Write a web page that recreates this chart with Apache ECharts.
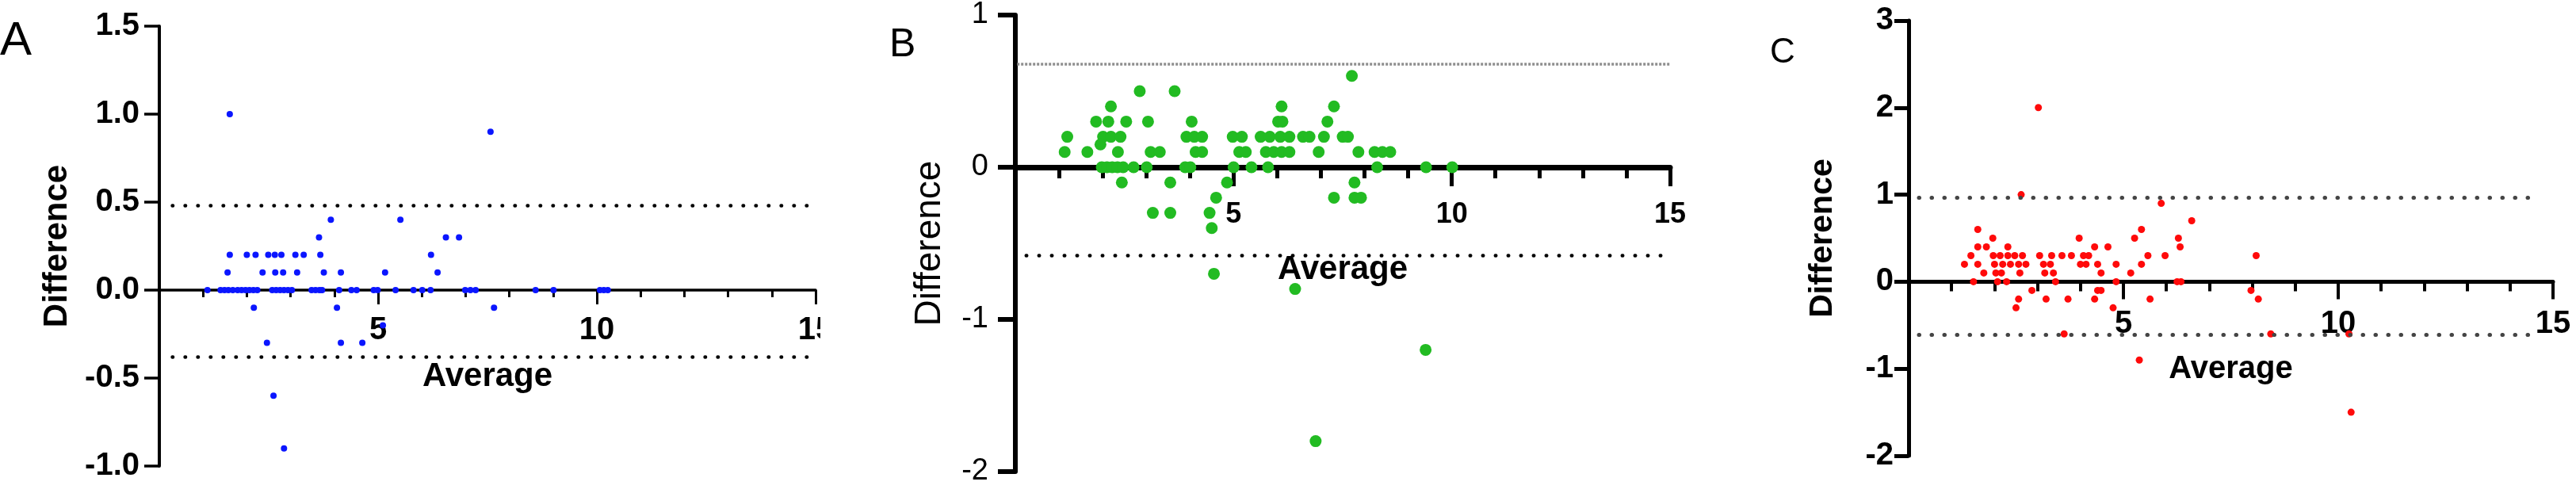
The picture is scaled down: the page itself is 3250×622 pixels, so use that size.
<!DOCTYPE html>
<html><head><meta charset="utf-8">
<script src="https://cdn.jsdelivr.net/npm/echarts@6/dist/echarts.min.js"></script>
<style>
html,body{margin:0;padding:0;background:#fff;width:3250px;height:622px;overflow:hidden}
.p{position:absolute;top:0;height:622px;overflow:hidden}
</style></head><body>
<div id="a" class="p" style="left:0;width:1035px"></div>
<div id="b" class="p" style="left:1035px;width:1165px"></div>
<div id="c" class="p" style="left:2200px;width:1050px"></div>
<script>
// ---------- DATA ----------
// Panel A (blue)
const avgA = [1.61, 7.57, 3.92, 5.51, 3.65, 6.55, 6.85,
  1.61, 2.00, 2.20, 2.49, 2.64, 2.79, 3.11, 3.30, 3.68, 6.21,
  1.56, 2.36, 2.65, 2.83, 3.15, 3.76, 4.15, 5.16, 6.36,
  1.10, 1.40, 1.49, 1.58, 1.68, 1.79, 1.88, 1.97, 2.06, 2.15, 2.24, 2.58, 2.67, 2.76, 2.85, 2.94, 3.03,
  3.48, 3.57, 3.66, 3.72, 4.11, 4.39, 4.51, 4.90, 4.99, 5.40, 5.81, 6.01, 6.20, 6.99, 7.11, 7.23,
  8.60, 9.01, 10.07, 10.16, 10.25,
  2.16, 4.06, 7.65, 5.11, 2.46, 4.15, 4.64, 2.61, 2.85];
const diffA = [1.0, 0.9, 0.4, 0.4, 0.3, 0.3, 0.3,
  0.2, 0.2, 0.2, 0.2, 0.2, 0.2, 0.2, 0.2, 0.2, 0.2,
  0.1, 0.1, 0.1, 0.1, 0.1, 0.1, 0.1, 0.1, 0.1,
  0, 0, 0, 0, 0, 0, 0, 0, 0, 0, 0, 0, 0, 0, 0, 0, 0,
  0, 0, 0, 0, 0, 0, 0, 0, 0, 0, 0, 0, 0, 0, 0, 0,
  0, 0, 0, 0, 0,
  -0.1, -0.1, -0.1, -0.2, -0.3, -0.3, -0.3, -0.6, -0.9];
const limitsA = [0.48, -0.38];

// Panel B (green)
const avgB = [7.71, 2.85, 3.65, 2.19, 6.10, 7.30,
  1.85, 2.13, 2.54, 3.04, 4.04, 6.02, 6.12, 7.15,
  1.19, 2.01, 2.19, 2.41, 3.92, 4.10, 4.28, 4.98, 5.19, 5.62, 5.83, 6.07, 6.28, 6.59, 6.74, 7.07, 7.50, 7.62,
  1.95,
  1.13, 1.65, 2.35, 3.10, 3.31, 4.13, 4.28, 5.13, 5.28, 5.74, 5.92, 6.10, 6.28, 6.95, 7.86, 8.23, 8.41, 8.59,
  1.98, 2.10, 2.22, 2.34, 2.47, 2.71, 3.01, 3.89, 4.01, 5.00, 5.41, 5.79, 8.29, 9.41, 10.01,
  2.44, 3.55, 4.85, 7.77, 4.60, 7.30, 7.77, 7.92, 3.15, 3.55, 4.45, 4.50, 4.55, 6.41, 9.40, 6.88];
const diffB = [0.6, 0.5, 0.5, 0.4, 0.4, 0.4,
  0.3, 0.3, 0.3, 0.3, 0.3, 0.3, 0.3, 0.3,
  0.2, 0.2, 0.2, 0.2, 0.2, 0.2, 0.2, 0.2, 0.2, 0.2, 0.2, 0.2, 0.2, 0.2, 0.2, 0.2, 0.2, 0.2,
  0.15,
  0.1, 0.1, 0.1, 0.1, 0.1, 0.1, 0.1, 0.1, 0.1, 0.1, 0.1, 0.1, 0.1, 0.1, 0.1, 0.1, 0.1, 0.1,
  0, 0, 0, 0, 0, 0, 0, 0, 0, 0, 0, 0, 0, 0, 0,
  -0.1, -0.1, -0.1, -0.1, -0.2, -0.2, -0.2, -0.2, -0.3, -0.3, -0.3, -0.4, -0.7, -0.8, -1.2, -1.8];
const limitsB = [0.68, -0.58];

// Panel C (red)
const avgC = [3.02, 2.62, 5.88, 6.59, 1.61, 5.42,
  1.96, 3.97, 5.26, 6.28,
  1.61, 1.81, 2.31, 4.33, 4.64, 6.32,
  1.45, 1.97, 2.13, 2.31, 2.47, 2.65, 3.05, 3.33, 3.57, 3.79, 4.07, 4.19, 5.57, 5.97, 8.09,
  1.30, 1.61, 2.00, 2.19, 2.37, 2.56, 2.73, 3.14, 3.30, 4.00, 4.13, 4.40, 4.83, 5.42,
  1.75, 2.03, 2.16, 2.59, 3.17, 3.37, 4.48, 5.17,
  1.51, 2.07, 2.28, 3.42, 4.83, 6.25, 6.34,
  2.87, 4.40, 4.48, 7.97,
  2.56, 3.20, 3.71, 4.33, 5.62, 8.14,
  2.50, 4.76, 3.62, 8.43, 10.25, 5.37, 10.30];
const diffC = [2.0, 1.0, 0.9, 0.7, 0.6, 0.6,
  0.5, 0.5, 0.5, 0.5,
  0.4, 0.4, 0.4, 0.4, 0.4, 0.4,
  0.3, 0.3, 0.3, 0.3, 0.3, 0.3, 0.3, 0.3, 0.3, 0.3, 0.3, 0.3, 0.3, 0.3, 0.3,
  0.2, 0.2, 0.2, 0.2, 0.2, 0.2, 0.2, 0.2, 0.2, 0.2, 0.2, 0.2, 0.2, 0.2,
  0.1, 0.1, 0.1, 0.1, 0.1, 0.1, 0.1, 0.1,
  0, 0, 0, 0, 0, 0, 0,
  -0.1, -0.1, -0.1, -0.1,
  -0.2, -0.2, -0.2, -0.2, -0.2, -0.2,
  -0.3, -0.3, -0.6, -0.6, -0.6, -0.9, -1.5];
const limitsC = [0.97, -0.61];

const xTitle = 'Average';
const yTitle = 'Difference';
const panelLetters = ['A', 'B', 'C'];

// ---------- RENDER ----------
const FONT = "'Liberation Sans', Arial, sans-serif";

function zip(xs, ys) { return xs.map((x, i) => [x, ys[i]]); }

function build(cfg) {
  const lim = cfg.limits.map((y, i) => [
    { coord: [cfg.limSpan[i][0], y], lineStyle: cfg.limStyle[i] },
    { coord: [cfg.limSpan[i][1], y] }
  ]);
  // move the x axis up to the y = 0 level of the grid
  const zeroOffset = -((0 - cfg.yMin) / (cfg.yMax - cfg.yMin)) * cfg.grid.height;
  return {
    animation: false,
    backgroundColor: '#fff',
    grid: Object.assign({ outerBoundsMode: 'none', containLabel: false }, cfg.grid),
    xAxis: {
      type: 'value', min: 0, max: 15, interval: 5, position: 'bottom', offset: zeroOffset,
      axisLine: { show: true, onZero: false, lineStyle: { color: '#000', width: cfg.xLineW } },
      axisTick: { show: true, length: cfg.xMajor, lineStyle: { color: '#000', width: cfg.xTickW } },
      minorTick: { show: true, splitNumber: 5, length: cfg.xMinor, lineStyle: { color: '#000', width: cfg.xTickW } },
      splitLine: { show: false }, minorSplitLine: { show: false },
      axisLabel: { showMinLabel: false, margin: cfg.xLab.margin, fontSize: cfg.xLab.size, fontWeight: cfg.xLab.weight, color: '#000', fontFamily: FONT },
      name: xTitle, nameLocation: 'middle', nameGap: cfg.xName.gap,
      nameTextStyle: { fontSize: cfg.xName.size, fontWeight: cfg.xName.weight, color: '#000', fontFamily: FONT }
    },
    yAxis: {
      type: 'value', min: cfg.yMin, max: cfg.yMax, interval: cfg.yInt,
      axisLine: { show: true, onZero: false, lineStyle: { color: '#000', width: cfg.yLineW } },
      axisTick: { show: true, length: cfg.yTick, lineStyle: { color: '#000', width: cfg.yTickW } },
      splitLine: { show: false },
      axisLabel: { margin: cfg.yLab.margin, fontSize: cfg.yLab.size, fontWeight: cfg.yLab.weight, color: '#000', fontFamily: FONT, formatter: cfg.yFmt },
      name: yTitle, nameLocation: 'middle', nameGap: cfg.yName.gap,
      nameTextStyle: { fontSize: cfg.yName.size, fontWeight: cfg.yName.weight, color: '#000', fontFamily: FONT }
    },
    graphic: [{
      type: 'text', x: cfg.letter.x, y: cfg.letter.y,
      style: { text: cfg.letter.text, fontSize: cfg.letter.size, fontFamily: FONT, fill: '#000',
               textAlign: 'left', textVerticalAlign: 'middle', align: 'left', verticalAlign: 'middle' }
    }],
    series: [{
      type: 'scatter', data: zip(cfg.avg, cfg.diff), symbol: 'circle', symbolSize: cfg.size,
      itemStyle: { color: cfg.color, opacity: 1 }, z: 3,
      markLine: { silent: true, symbol: ['none', 'none'], label: { show: false }, animation: false, data: lim }
    }]
  };
}

const dotBlack = { color: '#000', width: 4.5, type: [0.5, 15.5], cap: 'round' };

const cfgA = {
  grid: { left: 201, top: 33, width: 828, height: 555 },
  yMin: -1, yMax: 1.5, yInt: 0.5, yFmt: v => v.toFixed(1),
  avg: avgA, diff: diffA, color: '#0b16ff', size: 8,
  xLineW: 3.5, yLineW: 4, xMajor: 18, xMinor: 9, xTickW: 3, yTick: 19, yTickW: 3.5,
  yLab: { size: 40, weight: 'bold', margin: 25 },
  xLab: { size: 40, weight: 'bold', margin: 31 },
  yName: { size: 42, weight: 'bold', gap: 108 },
  xName: { size: 42, weight: 'bold', gap: 88 },
  limits: limitsA, limSpan: [[0.3, 15], [0.3, 15]], limStyle: [dotBlack, dotBlack],
  letter: { text: panelLetters[0], x: 0, y: 52, size: 60 }
};
const cfgB = {
  grid: { left: 246, top: 19, width: 826, height: 576 },
  yMin: -2, yMax: 1, yInt: 1, yFmt: v => String(v),
  avg: avgB, diff: diffB, color: '#22bb22', size: 15,
  xLineW: 7, yLineW: 6, xMajor: 24, xMinor: 14, xTickW: 5, yTick: 22, yTickW: 6,
  yLab: { size: 38, weight: 'normal', margin: 34 },
  xLab: { size: 36, weight: 'bold', margin: 42 },
  yName: { size: 46, weight: 'normal', gap: 85 },
  xName: { size: 42, weight: 'bold', gap: 108 },
  limits: limitsB, limSpan: [[0.04, 15], [0.25, 14.85]],
  limStyle: [{ color: '#8e8e8e', width: 3.5, type: [3, 2] }, { color: '#000', width: 4.5, type: [0.5, 15.5], cap: 'round' }],
  letter: { text: panelLetters[1], x: 87, y: 57, size: 50 }
};
const cfgC = {
  grid: { left: 208, top: 26, width: 813, height: 549 },
  yMin: -2, yMax: 3, yInt: 1, yFmt: v => String(v),
  avg: avgC, diff: diffC, color: '#ff0a0a', size: 9,
  xLineW: 5, yLineW: 5, xMajor: 22, xMinor: 12, xTickW: 4, yTick: 18, yTickW: 5,
  yLab: { size: 40, weight: 'bold', margin: 19 },
  xLab: { size: 40, weight: 'bold', margin: 34 },
  yName: { size: 41, weight: 'bold', gap: 88 },
  xName: { size: 40, weight: 'bold', gap: 91 },
  limits: limitsC, limSpan: [[0.24, 14.7], [0.24, 14.7]],
  limStyle: [{ color: '#444', width: 5, type: [0.5, 15.5], cap: 'round' }, { color: '#444', width: 5, type: [0.5, 15.5], cap: 'round' }],
  letter: { text: panelLetters[2], x: 33, y: 67, size: 44 }
};

[['a', cfgA], ['b', cfgB], ['c', cfgC]].forEach(([id, cfg]) => {
  const chart = echarts.init(document.getElementById(id), null, { renderer: 'canvas' });
  chart.setOption(build(cfg));
});
</script>
</body></html>
